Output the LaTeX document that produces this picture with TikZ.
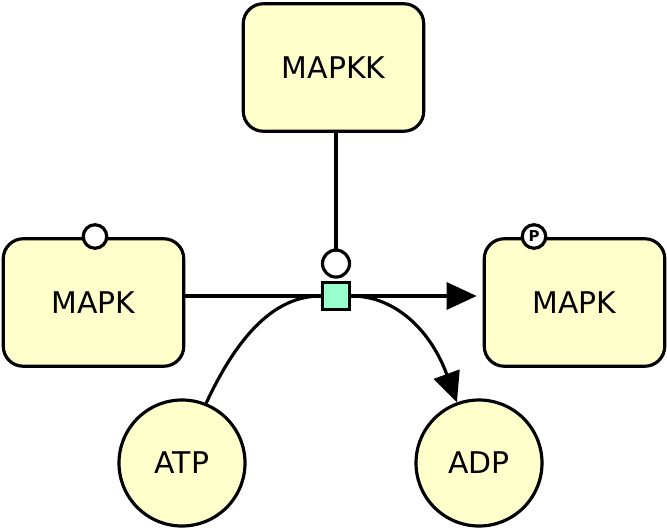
\documentclass[tikz,border=0pt]{standalone}
\usepackage{fontspec}
\setmainfont{DejaVu Sans}
\usepackage{tikz}
\usetikzlibrary{shapes,arrows.meta,positioning}
\definecolor{chemyellow}{RGB}{255, 255, 204}
\definecolor{procgreen}{RGB}{153, 255, 204}
\tikzset{
	node distance =0.04cm,
	macro/.style ={rectangle, rounded corners=0.4cm, draw, fill=chemyellow, minimum width=3.61cm, minimum height=2.55cm, font=\fontsize{17}{20}\selectfont},
	chem/.style ={circle, draw, fill=chemyellow, minimum size=2.52cm, font=\fontsize{17}{20}\selectfont},
	process/.style = {rectangle, draw, fill=procgreen, inner sep=0pt, minimum size=0.55cm},
	stvar/.style = {circle, draw, fill=white, inner sep=0pt, minimum size=0.47cm, font=\bfseries\fontsize{8.5}{9}\selectfont},
	catalysis/.style = {circle, draw, fill=white, inner sep=0pt, minimum size=0.54cm},
	production/.style={-{Triangle[length=0.6cm,width=0.54cm]}}
}

\begin{document}
\begin{tikzpicture}[line width=1.8pt]
    \useasboundingbox (0,0) rectangle (13.34,10.62);
    \node[macro] (mapkk) at (6.67,9.27) {MAPKK};
    \node[macro] (mapk) at (1.87,4.57) {MAPK};
    \node[macro] (mapkp) at (11.49,4.57) {MAPK};
    \node[stvar] (sv) at (1.90,5.89) {};
    \node[stvar] (svp) at (10.68,5.89) {P};

    \node[process] (pr) at (6.72,4.70) {};
    \node[catalysis, above=of pr] (cat) {};

    \node[chem] (atp) at (3.64,1.36) {ATP};
    \node[chem] (adp) at (9.58,1.36) {ADP};

    \draw (mapkk.south -| cat) -- (cat.north);
    \draw (mapk.east |- pr.west) -- (pr.west);
    \draw[production, shorten >=0.12cm] (pr.east) -- (mapkp.west |- pr.east);
    \draw (atp.68) .. controls +(65:1.54) and +(180:0.9) .. (pr.west);
    \draw[production] (pr.east) .. controls +(0:0.9) and +(110:1.5) .. (adp.110);
\end{tikzpicture}
\end{document}
